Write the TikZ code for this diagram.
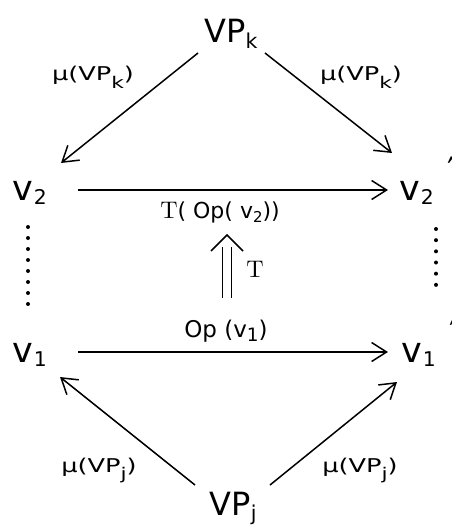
\documentclass[tikz,border=0pt]{standalone}
\usepackage{fontspec}
\setmainfont{DejaVu Sans}
\newfontfamily\lmr{lmroman10-regular.otf}
\usetikzlibrary{arrows.meta,calc}
% lowered, scaled subscript: #1 scale, #2 drop (em), #3 text
\newcommand\lowsub[3]{\raisebox{-#2em}{\scalebox{#1}{#3}}}
\begin{document}
\begin{tikzpicture}[x=1pt,y=-1pt,
  lbl/.style={inner sep=0pt, anchor=base},
  big/.style={lbl, font=\fontsize{32}{32}\selectfont},
  var/.style={inner sep=0pt, anchor=base west, font=\fontsize{35}{35}\selectfont},
  mu/.style={lbl, font=\fontsize{19}{19}\selectfont, xscale=1.35},
  op/.style={lbl, font=\fontsize{22}{22}\selectfont},
  map/.style={line width=1.5pt, -{Straight Barb[length=15pt,width=19pt]}},
  imp/.style={line width=1.6pt},
  dotline/.style={line width=4pt, line cap=round, dash pattern=on 0pt off #1},
]
\useasboundingbox (0,0) rectangle (451,527);
\fill[white] (0,0) rectangle (451,527);

% objects
\node[big] (VPk) at (231,43) {VP\lowsub{0.64}{0.16}{k}};
\node[big] (VPj) at (233,515) {VP\lowsub{0.64}{0.16}{j}};
\node[var] (v2l) at (12,200) {v\kern1pt\lowsub{0.58}{0.12}{2}};
\node[var] (v1l) at (12,362) {v\kern1pt\lowsub{0.58}{0.12}{1}};
\node[var] (v2r) at (399,200) {v\kern1pt\lowsub{0.58}{0.12}{2}\kern14pt\raisebox{0.5em}{′}};
\node[var] (v1r) at (401,362) {v\kern1pt\lowsub{0.58}{0.12}{1}\kern14pt\raisebox{0.5em}{′}};

% labels
\node[mu] (mk1) at (93,81) {μ(VP\lowsub{0.85}{0.4}{k})};
\node[mu] (mk2) at (361,81) {μ(VP\lowsub{0.85}{0.4}{k})};
\node[mu] (mj1) at (99,472) {μ(VP\lowsub{0.85}{0.4}{j})};
\node[mu] (mj2) at (360,472) {μ(VP\lowsub{0.85}{0.4}{j})};
\node[op] (topv2) at (220,218) {{\lmr\fontsize{24}{24}\selectfont T}( Op( v\lowsub{0.68}{0.2}{2}))};
\node[op, font=\fontsize{23}{23}\selectfont] (opv1) at (226,337) {Op (v\lowsub{0.8}{0.2}{1})};
\node[op] (tl) at (255,277) {\lmr\fontsize{24}{24}\selectfont T};

% mappings from VP_k
\draw[map] ($(VPk.base)+(-33,10)$) -- ($(v2l.base west)+(49,-37)$);
\draw[map] ($(VPk.base)+(34,10)$) -- ($(v2r.base west)+(-7,-47)$);
% mappings from VP_j
\draw[map] ($(VPj.base)+(-38,-30)$) -- ($(v1l.base west)+(48,15)$);
\draw[map] ($(VPj.base)+(37,-30)$) -- ($(v1r.base west)+(-4,20)$);
% operations
\draw[map] ($(v2l.base west)+(66,-10)$) -- ($(v2r.base west)+(-11,-10)$);
\draw[map] ($(v1l.base west)+(66,-10)$) -- ($(v1r.base west)+(-13,-10)$);

% transformation T (double arrow)
\draw[imp] ($(opv1.base)+(-3.5,-39)$) -- ($(topv2.base)+(2.5,29)$);
\draw[imp] ($(opv1.base)+(5.5,-39)$) -- ($(topv2.base)+(11.5,29)$);
\draw[imp, line join=miter] ($(topv2.base)+(-9,33)$) -- ($(topv2.base)+(7,17)$) -- ($(topv2.base)+(23,33)$);

% vertical dotted lines
\draw[dotline=11pt] ($(v2l.base west)+(16,27)$) -- ($(v1l.base west)+(16,-47)$);
\draw[dotline=11.17pt] ($(v2r.base west)+(37,29)$) -- ($(v1r.base west)+(35,-66)$);
\end{tikzpicture}
\end{document}
